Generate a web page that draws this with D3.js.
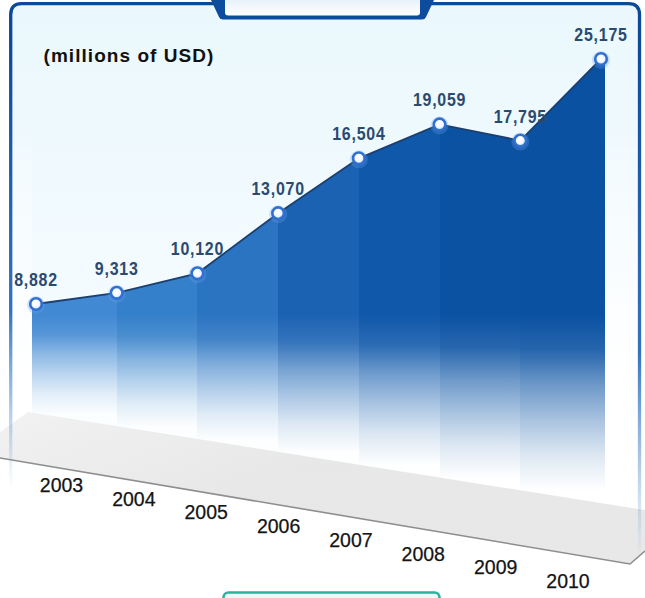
<!DOCTYPE html>
<html>
<head>
<meta charset="utf-8">
<script src="https://cdn.jsdelivr.net/npm/d3@7"></script>
<style>
  html, body { margin: 0; padding: 0; background: #ffffff; }
  svg { display: block; }
</style>
</head>
<body>
<script>
// ---------- data ----------
const years = ["2003", "2004", "2005", "2006", "2007", "2008", "2009", "2010"];
const values = [8882, 9313, 10120, 13070, 16504, 19059, 17795, 25175];
const unitLabel = "(millions of USD)";

// ---------- styles ----------
const stripColors = ["#4189d3", "#3580ca", "#2b74c2", "#1c62b3", "#1058aa", "#0b52a3", "#0a51a2"];
const borderBlue = "#0b4a98";

const W = 645, H = 598;
const svg = d3.select("body").append("svg").attr("width", W).attr("height", H);
const defs = svg.append("defs");

// scales
const x = d3.scalePoint().domain(years).range([36, 601]);
const y = d3.scaleLog().domain(d3.extent(values)).range([304, 59]);
const labelX = d3.scalePoint().domain(years).range([61.5, 568]);
const floorTop = px => 412 + (px - 28) * 0.159;
const labelBase = px => 492 + (px - 61.5) * 0.19;

// ---------- panel ----------
const bg = defs.append("linearGradient").attr("id", "panelBg")
  .attr("gradientUnits", "userSpaceOnUse").attr("x1", 0).attr("y1", 0).attr("x2", 0).attr("y2", 490);
bg.append("stop").attr("offset", 0).attr("stop-color", "#eaf8fd");
bg.append("stop").attr("offset", 0.6).attr("stop-color", "#f4fbfe");
bg.append("stop").attr("offset", 1).attr("stop-color", "#ffffff");

const L = 10.7, R = 639.5, T = 3.7, rad = 11;
svg.append("path")
  .attr("d", `M${L},${H} L${L},${T + rad} Q${L},${T} ${L + rad},${T} L${R - rad},${T} Q${R},${T} ${R},${T + rad} L${R},${H} Z`)
  .attr("fill", "url(#panelBg)");

// white "wall" bands on both sides
const band = defs.append("linearGradient").attr("id", "band")
  .attr("gradientUnits", "userSpaceOnUse").attr("x1", 0).attr("y1", 120).attr("x2", 0).attr("y2", 380);
band.append("stop").attr("offset", 0).attr("stop-color", "#ffffff").attr("stop-opacity", 0);
band.append("stop").attr("offset", 1).attr("stop-color", "#ffffff").attr("stop-opacity", 0.95);
svg.append("rect").attr("x", L + 1.6).attr("y", 120).attr("width", 32 - L - 1.6).attr("height", 330).attr("fill", "url(#band)");
svg.append("rect").attr("x", 605).attr("y", 120).attr("width", R - 1.6 - 605).attr("height", 420).attr("fill", "url(#band)");

// ---------- area strips ----------
const pts = years.map((yr, i) => ({ x: x(yr), y: y(values[i]) }));
const area = d3.area().x(d => d.x).y0(d => floorTop(d.x)).y1(d => d.y);
const fadeStops = [[0, 1], [0.2, 0.88], [0.4, 0.58], [0.6, 0.34], [0.8, 0.13], [1, 0]];

for (let i = 0; i < pts.length - 1; i++) {
  const seg = [pts[i], pts[i + 1]];
  if (i === 0) seg.unshift({ x: pts[0].x - 4, y: pts[0].y });
  if (i === pts.length - 2) seg.push({ x: pts[i + 1].x + 4, y: pts[i + 1].y });
  const mid = (pts[i].x + pts[i + 1].x) / 2;
  const g = defs.append("linearGradient").attr("id", "strip" + i)
    .attr("gradientUnits", "userSpaceOnUse")
    .attr("x1", 0).attr("y1", 315).attr("x2", 0).attr("y2", floorTop(mid) - 6);
  fadeStops.forEach(([o, a]) => {
    g.append("stop").attr("offset", o).attr("stop-color", stripColors[i]).attr("stop-opacity", a);
  });
  svg.append("path").attr("d", area(seg))
    .attr("fill", `url(#strip${i})`)
    .attr("shape-rendering", "crispEdges");
}

// ---------- floor ----------
const fl = defs.append("linearGradient").attr("id", "floorG")
  .attr("gradientUnits", "userSpaceOnUse").attr("x1", 0).attr("y1", 410).attr("x2", 60).attr("y2", 560);
fl.append("stop").attr("offset", 0).attr("stop-color", "#f1f1f1");
fl.append("stop").attr("offset", 1).attr("stop-color", "#e6e6e6");
const floorPts = [[28, floorTop(28)], [645, floorTop(645)], [645, 551], [630, 564], [0, 458], [0, 432]];
svg.append("path")
  .attr("d", d3.line()(floorPts) + "Z")
  .attr("fill", "url(#floorG)").attr("fill-opacity", 0.93);
svg.append("path")
  .attr("d", d3.line()([[0, 458], [630, 564], [645, 551]]))
  .attr("fill", "none").attr("stroke", "#8e8e8e").attr("stroke-width", 1.6);

// ---------- line & markers ----------
svg.append("path")
  .attr("d", d3.line().x(d => d.x).y(d => d.y)(pts))
  .attr("fill", "none").attr("stroke", "#1d3f6f").attr("stroke-width", 1.8);

const mk = defs.append("radialGradient").attr("id", "mk").attr("cx", "45%").attr("cy", "40%").attr("r", "60%");
mk.append("stop").attr("offset", 0).attr("stop-color", "#ffffff");
mk.append("stop").attr("offset", 0.6).attr("stop-color", "#f2f7ff");
mk.append("stop").attr("offset", 1).attr("stop-color", "#b9d3f5");

const mg = svg.append("g");
mg.selectAll("circle.halo").data(pts).join("circle").attr("class", "halo")
  .attr("cx", d => d.x).attr("cy", d => d.y + 1).attr("r", 9)
  .attr("fill", "#6aa2ea").attr("fill-opacity", 0.28);
mg.selectAll("circle.dot").data(pts).join("circle").attr("class", "dot")
  .attr("cx", d => d.x).attr("cy", d => d.y).attr("r", 5.8)
  .attr("fill", "url(#mk)").attr("stroke", "#2f70d0").attr("stroke-width", 2.6);

// ---------- value labels ----------
const fmt = d3.format(",");
svg.append("g").selectAll("text").data(pts).join("text")
  .attr("transform", d => `translate(${d.x},${d.y - 18}) scale(0.84,1)`)
  .attr("text-anchor", "middle")
  .attr("font-family", "'Liberation Sans', Arial, sans-serif")
  .attr("font-weight", "bold").attr("font-size", 19)
  .attr("letter-spacing", 0.9)
  .attr("fill", "#2b4a6f")
  .text((d, i) => fmt(values[i]));

// ---------- unit label ----------
svg.append("text")
  .attr("x", 43.5).attr("y", 61.7)
  .attr("font-family", "'Liberation Sans', Arial, sans-serif")
  .attr("font-weight", "bold").attr("font-size", 19)
  .attr("letter-spacing", 1.05)
  .attr("fill", "#111111")
  .text(unitLabel);

// ---------- year labels ----------
svg.append("g").selectAll("text").data(years).join("text")
  .attr("x", d => labelX(d)).attr("y", d => labelBase(labelX(d)))
  .attr("text-anchor", "middle")
  .attr("font-family", "'Liberation Sans', Arial, sans-serif")
  .attr("font-size", 19.5)
  .attr("fill", "#141414")
  .attr("stroke", "#141414").attr("stroke-width", 0.25)
  .text(d => d);

// ---------- border ----------
svg.append("path")
  .attr("d", `M${L},40 L${L},${T + rad} Q${L},${T} ${L + rad},${T} L${R - rad},${T} Q${R},${T} ${R},${T + rad} L${R},40`)
  .attr("fill", "none").attr("stroke", borderBlue).attr("stroke-width", 3.3);

const lg = defs.append("linearGradient").attr("id", "leftB")
  .attr("gradientUnits", "userSpaceOnUse").attr("x1", 0).attr("y1", 40).attr("x2", 0).attr("y2", 490);
lg.append("stop").attr("offset", 0).attr("stop-color", borderBlue).attr("stop-opacity", 1);
lg.append("stop").attr("offset", 0.6).attr("stop-color", "#1c63b8").attr("stop-opacity", 0.9);
lg.append("stop").attr("offset", 1).attr("stop-color", "#5b9ad6").attr("stop-opacity", 0);
svg.append("line").attr("x1", L).attr("x2", L).attr("y1", 40).attr("y2", 490)
  .attr("stroke", "url(#leftB)").attr("stroke-width", 3.3);

const rg = defs.append("linearGradient").attr("id", "rightB")
  .attr("gradientUnits", "userSpaceOnUse").attr("x1", 0).attr("y1", 40).attr("x2", 0).attr("y2", 560);
rg.append("stop").attr("offset", 0).attr("stop-color", borderBlue).attr("stop-opacity", 1);
rg.append("stop").attr("offset", 0.6).attr("stop-color", "#1c63b8").attr("stop-opacity", 0.9);
rg.append("stop").attr("offset", 1).attr("stop-color", "#5b9ad6").attr("stop-opacity", 0);
svg.append("line").attr("x1", R).attr("x2", R).attr("y1", 40).attr("y2", 560)
  .attr("stroke", "url(#rightB)").attr("stroke-width", 3.3);

// ---------- top tab ----------
svg.append("path")
  .attr("d", "M211,0 L434,0 L426,17 Q425,19.5 422,19.5 L223,19.5 Q220,19.5 219,17 Z")
  .attr("fill", "#0d4c9c");
const tg = defs.append("linearGradient").attr("id", "tabG").attr("x1", 0).attr("y1", 0).attr("x2", 0).attr("y2", 1);
tg.append("stop").attr("offset", 0).attr("stop-color", "#e8f2fb");
tg.append("stop").attr("offset", 1).attr("stop-color", "#ffffff");
svg.append("path")
  .attr("d", "M225,0 L420,0 L420,12.5 Q420,15.5 417,15.5 L228,15.5 Q225,15.5 225,12.5 Z")
  .attr("fill", "url(#tabG)");

// ---------- bottom tab ----------
svg.append("rect")
  .attr("x", 223.5).attr("y", 592.5).attr("width", 216).attr("height", 20).attr("rx", 5)
  .attr("fill", "#e9fbf7").attr("stroke", "#2bb39c").attr("stroke-width", 2.6);
</script>
</body>
</html>
